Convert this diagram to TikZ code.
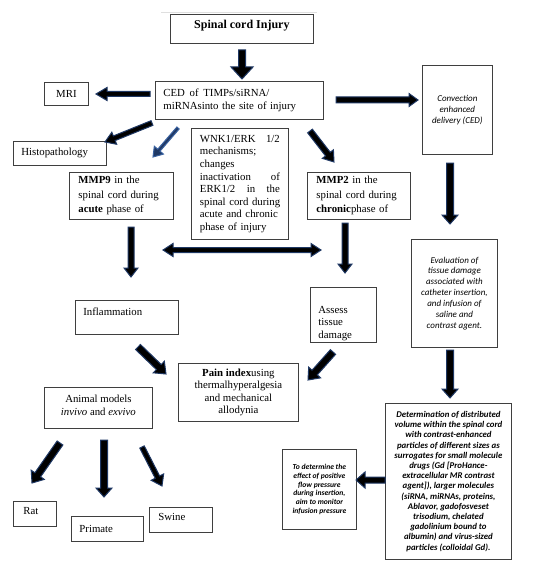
\documentclass[tikz,border=0pt]{standalone}
\usepackage{fontspec}
\setmainfont{Liberation Serif}
\newfontfamily\calfont{Carlito}
\usetikzlibrary{calc}
\definecolor{navy}{HTML}{1F3864}
\definecolor{lightnavy}{HTML}{3A62A0}
\definecolor{boxline}{HTML}{3F3F3F}
\tikzset{
  box/.style={draw=boxline, line width=0.8pt, inner sep=0pt, anchor=north west,
    font=\fontsize{10.8}{13}\selectfont},
  calit/.style={font=\calfont\itshape\fontsize{9}{11}\selectfont, align=center},
  calbf/.style={font=\calfont\bfseries\itshape\fontsize{8.8}{10.2}\selectfont, align=center},
  blockarr/.style={fill=black, draw=navy, line width=1pt, line join=miter},
  thinarr/.style={fill=navy, draw=lightnavy, line width=1pt, line join=miter},
}
% single block arrow: start, end, shaft half width, head half width, head length
\newcommand{\barr}[6][blockarr]{%
  \coordinate (tmpH) at ($(#3)!#6!(#2)$);
  \filldraw[#1] ($(#2)!#4!90:(#3)$) -- ($(tmpH)!#4!-90:(#2)$) -- ($(tmpH)!#5!-90:(#2)$)
    -- (#3) -- ($(tmpH)!#5!90:(#2)$) -- ($(tmpH)!#4!90:(#2)$) -- ($(#2)!#4!-90:(#3)$) -- cycle;
}
% double block arrow
\newcommand{\dbarr}[5]{%
  \coordinate (tmpHa) at ($(#1)!#5!(#2)$);
  \coordinate (tmpHb) at ($(#2)!#5!(#1)$);
  \filldraw[blockarr] (#1) -- ($(tmpHa)!#4!90:(#2)$) -- ($(tmpHa)!#3!90:(#2)$)
    -- ($(tmpHb)!#3!-90:(#1)$) -- ($(tmpHb)!#4!-90:(#1)$) -- (#2)
    -- ($(tmpHb)!#4!90:(#1)$) -- ($(tmpHb)!#3!90:(#1)$)
    -- ($(tmpHa)!#3!-90:(#2)$) -- ($(tmpHa)!#4!-90:(#2)$) -- cycle;
}
\begin{document}
\begin{tikzpicture}[x=1pt,y=-1pt]
\useasboundingbox (0,0) rectangle (544,583);
\fill[white] (0,0) rectangle (544,583);

\draw[gray!25, line width=0.6pt] (161,12) -- (317,12);

% boxes
\node[box, minimum width=143pt, minimum height=29pt, text depth=8.4pt,
      font=\bfseries\fontsize{12}{14}\selectfont] (sci) at (170,14) {Spinal cord Injury};
\node[box, minimum width=44pt, minimum height=23pt] (mri) at (44,82) {MRI};
\node[box, minimum width=168pt, minimum height=38pt, text width=152pt, align=left,
      font=\fontsize{10.8}{13.3}\selectfont] (ced) at (155,81)
      {CED\hspace{4.7pt}of\hspace{4.7pt}TIMPs/siRNA/\\miRNAsinto the site of injury};
\node[box, minimum width=70pt, minimum height=89pt, calit] (conv) at (422,65)
      {Convection\\enhanced\\delivery (CED)};
\node[box, minimum width=93pt, minimum height=24pt, text width=77pt, align=left] (histo) at (13,141)
      {Histopathology};
\node[box, minimum width=97pt, minimum height=111pt, text width=80pt, align=left,
      font=\fontsize{10.8}{12.6}\selectfont] (wnk) at (191,128)
      {\makebox[80pt][s]{WNK1/ERK\hfill 1/2}\\
       mechanisms;\\
       changes\\
       \makebox[80pt][s]{inactivation\hfill of}\\
       \makebox[80pt][s]{ERK1/2\hfill in\hfill the}\\
       \makebox[80pt][s]{spinal cord during}\\
       \makebox[80pt][s]{acute and chronic}\\
       phase of injury};
\node[box, minimum width=104pt, minimum height=47pt, text width=86pt, align=left,
      font=\fontsize{10.8}{14.5}\selectfont] (mmp9) at (69,172)
      {\textbf{MMP9} in the\\spinal cord during\\\textbf{acute} phase of};
\node[box, minimum width=103pt, minimum height=47pt, text width=85pt, align=left,
      font=\fontsize{10.8}{14.5}\selectfont] (mmp2) at (307,172)
      {\textbf{MMP2} in the\\spinal cord during\\\textbf{chronic}phase of};
\node[box, minimum width=86pt, minimum height=108pt, calit, font=\calfont\itshape\fontsize{9}{10.9}\selectfont] (eval) at (411,239)
      {Evaluation of\\tissue damage\\associated with\\catheter insertion,\\and infusion of\\saline and\\contrast agent.};
\node[box, minimum width=103pt, minimum height=34pt, text width=87pt, align=left, text depth=12pt] (infl) at (75,300)
      {Inflammation};
\node[box, minimum width=66pt, minimum height=55pt, text width=50pt, align=left, text depth=10pt,
      font=\fontsize{10.8}{12.5}\selectfont] (assess) at (310,287)
      {Assess\\tissue\\damage};
\node[box, minimum width=120pt, minimum height=58pt, align=center,
      font=\fontsize{10.8}{12.3}\selectfont] (pain) at (178,363)
      {\textbf{Pain index}using\\thermalhyperalgesia\\and mechanical\\allodynia};
\node[box, minimum width=108pt, minimum height=41pt, align=center, text depth=6pt] (animal) at (44,387)
      {Animal models\\\textit{invivo} and \textit{exvivo}};
\node[box, minimum width=43pt, minimum height=25pt, text width=23pt, align=left, text depth=5pt] (rat) at (13,501) {Rat};
\node[box, minimum width=72pt, minimum height=25pt, text width=56pt, align=left] (primate) at (71,516) {Primate};
\node[box, minimum width=63pt, minimum height=25pt, text width=45pt, align=left, text depth=5pt] (swine) at (149,507) {Swine};
\node[box, minimum width=126pt, minimum height=156pt, calbf] (det) at (385,403)
      {Determination of distributed\\volume within the spinal cord\\with contrast-enhanced\\particles of different sizes as\\surrogates for small molecule\\drugs (Gd [ProHance-\\extracellular MR contrast\\agent]), larger molecules\\(siRNA, miRNAs, proteins,\\Ablavor, gadofosveset\\trisodium, chelated\\gadolinium bound to\\albumin) and virus-sized\\particles (colloidal Gd).};
\node[box, minimum width=74pt, minimum height=80pt, calbf, font=\calfont\bfseries\itshape\fontsize{7.6}{8.8}\selectfont] (todet) at (282,449)
      {To determine the\\effect of positive\\flow pressure\\during insertion,\\aim to monitor\\infusion pressure};

% arrow end points
\coordinate (a1s) at (242,50);   \coordinate (a1e) at (242,79);
\coordinate (a2s) at (150,94);   \coordinate (a2e) at (96,94);
\coordinate (a3s) at (336,100);  \coordinate (a3e) at (418,100);
\coordinate (a4s) at (152,123);  \coordinate (a4e) at (105,142);
\coordinate (a5s) at (178,128);  \coordinate (a5e) at (153,157);
\coordinate (a6s) at (310,131);  \coordinate (a6e) at (334,162);
\coordinate (a7s) at (450,163);  \coordinate (a7e) at (450,224);
\coordinate (a8s) at (450,350);  \coordinate (a8e) at (450,398);
\coordinate (a9s) at (131,227);  \coordinate (a9e) at (131,277);
\coordinate (a10s) at (345,223); \coordinate (a10e) at (345,273);
\coordinate (d1) at (163,250);   \coordinate (d2) at (321,250);
\coordinate (a12s) at (138,347); \coordinate (a12e) at (166,374);
\coordinate (a13s) at (333,352); \coordinate (a13e) at (308,380);
\coordinate (a14s) at (385,480); \coordinate (a14e) at (356,480);
\coordinate (a15s) at (60,443);  \coordinate (a15e) at (32,483);
\coordinate (a16s) at (104,440); \coordinate (a16e) at (104,497);
\coordinate (a17s) at (142,447); \coordinate (a17e) at (162,486);

\barr{a1s}{a1e}{3.5pt}{11pt}{12pt}
\barr{a2s}{a2e}{2.5pt}{6.5pt}{11pt}
\barr{a3s}{a3e}{3pt}{6.5pt}{9pt}
\barr{a4s}{a4e}{2.5pt}{6.5pt}{10pt}
\barr[thinarr]{a5s}{a5e}{1.5pt}{6pt}{9pt}
\barr{a6s}{a6e}{3pt}{7pt}{10pt}
\barr{a7s}{a7e}{3.5pt}{8pt}{9pt}
\barr{a8s}{a8e}{3.5pt}{8pt}{9pt}
\barr{a9s}{a9e}{3pt}{7pt}{9pt}
\barr{a10s}{a10e}{3pt}{7pt}{9pt}
\dbarr{d1}{d2}{2.5pt}{6.5pt}{10pt}
\barr{a12s}{a12e}{3.5pt}{8pt}{10pt}
\barr{a13s}{a13e}{3.5pt}{8pt}{10pt}
\barr{a14s}{a14e}{3pt}{8pt}{9pt}
\barr{a15s}{a15e}{3.5pt}{8pt}{10pt}
\barr{a16s}{a16e}{3.5pt}{8pt}{9pt}
\barr{a17s}{a17e}{2.5pt}{7pt}{10pt}
\end{tikzpicture}
\end{document}
